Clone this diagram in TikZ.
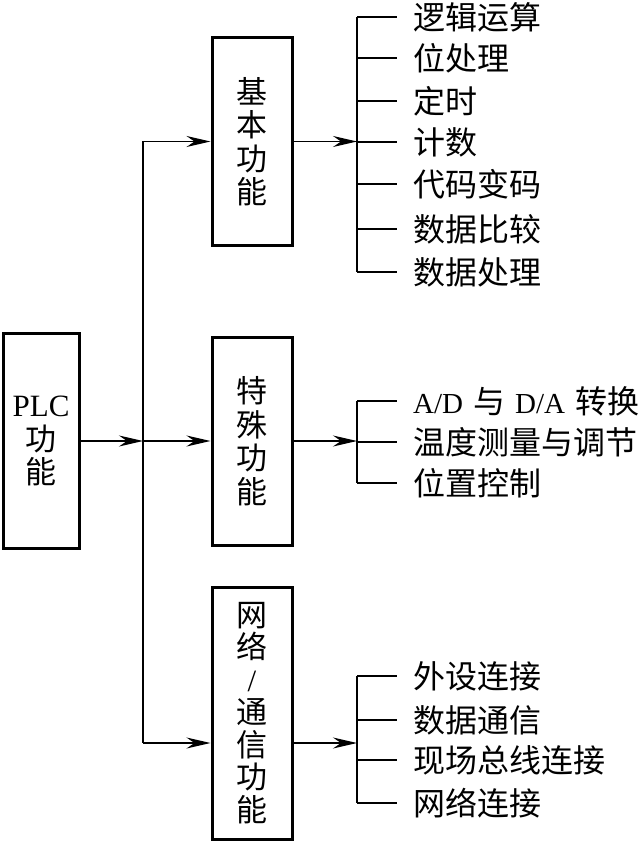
\documentclass[tikz,border=0pt]{standalone}
\usepackage{fontspec}
\setmainfont{Liberation Serif}
\newfontfamily\cjk{Noto Sans CJK SC}
\usetikzlibrary{arrows.meta}
\begin{document}
\begin{tikzpicture}[x=1pt,y=-1pt,
  fbox/.style={draw,line width=3pt,minimum width=80pt,inner sep=0pt,align=center,
     font=\cjk\fontsize{31}{33.5}\selectfont},
  conn/.style={line width=1.4pt},
  arr/.style={line width=1.4pt,-{Stealth[length=24pt,width=11pt,inset=8pt]}},
  leaf/.style={anchor=west,inner sep=0pt,font=\cjk\fontsize{32}{34}\selectfont}]
\useasboundingbox (0,0) rectangle (642,842);
\fill[white] (0,0) rectangle (642,842);

% main box
\node[fbox,minimum width=76pt,minimum height=215pt] (plc) at (41,441)
  {{\rmfamily\fontsize{31}{33.5}\selectfont PLC}\\功\\能};

% sub boxes
\node[fbox,minimum height=207pt] (basic) at (252,141.5) {基\\本\\功\\能};
\node[fbox,minimum height=208pt] (special) at (252,441) {特\\殊\\功\\能};
\node[fbox,minimum height=252pt,font=\cjk\fontsize{31}{32.5}\selectfont] (net) at (252,713)
  {网\\络\\{\rmfamily /}\\通\\信\\功\\能};

% trunk
\coordinate (jt) at (143,141.5);
\coordinate (jm) at (143,441);
\coordinate (jb) at (143,743);
\draw[conn] (jt) -- (jb);
\draw[arr] (plc.east) -- (jm);
\draw[arr] (jt) -- (basic.west);
\draw[arr] (jm) -- (special.west);
\draw[arr] (jb) -- (net.west |- jb);

% basic leaves
\coordinate (bb1) at (357,141.5);
\draw[arr] (basic.east) -- (bb1);
\node[leaf] (a1) at (413,17) {逻辑运算};
\node[leaf] (a2) at (413,58) {位处理};
\node[leaf] (a3) at (413,101) {定时};
\node[leaf] (a4) at (413,142) {计数};
\node[leaf] (a5) at (413,184) {代码变码};
\node[leaf] (a6) at (413,229) {数据比较};
\node[leaf] (a7) at (413,272) {数据处理};
\draw[conn] (bb1 |- a1.west) -- (bb1 |- a7.west);
\foreach \n in {a1,a2,a3,a4,a5,a6,a7}{
  \draw[conn] (bb1 |- \n.west) -- ([xshift=-16pt]\n.west);
}

% special leaves
\coordinate (bb2) at (357,441);
\draw[arr] (special.east) -- (bb2);
\node[leaf] (b1) at (413,401) {{\rmfamily\fontsize{29}{30}\selectfont A/D}\hspace{10pt}与\hspace{10pt}{\rmfamily\fontsize{29}{30}\selectfont D/A}\hspace{10pt}转换};
\node[leaf] (b2) at (413,442) {温度测量与调节};
\node[leaf] (b3) at (413,483) {位置控制};
\draw[conn] (bb2 |- b1.west) -- (bb2 |- b3.west);
\foreach \n in {b1,b2,b3}{
  \draw[conn] (bb2 |- \n.west) -- ([xshift=-16pt]\n.west);
}

% network leaves
\coordinate (bb3) at (357,743);
\draw[arr] (net.east |- bb3) -- (bb3);
\node[leaf] (c1) at (413,676) {外设连接};
\node[leaf] (c2) at (413,720) {数据通信};
\node[leaf] (c3) at (413,760) {现场总线连接};
\node[leaf] (c4) at (413,803) {网络连接};
\draw[conn] (bb3 |- c1.west) -- (bb3 |- c4.west);
\foreach \n in {c1,c2,c3,c4}{
  \draw[conn] (bb3 |- \n.west) -- ([xshift=-16pt]\n.west);
}
\end{tikzpicture}
\end{document}
